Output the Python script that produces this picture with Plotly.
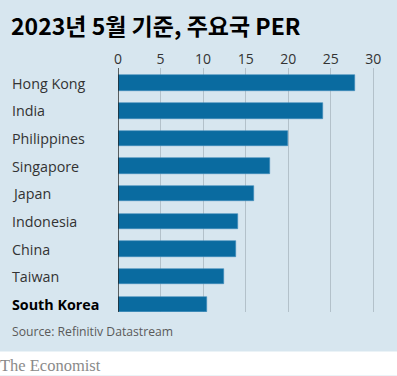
import plotly.graph_objects as go

countries = ["Hong Kong", "India", "Philippines", "Singapore", "Japan",
             "Indonesia", "China", "Taiwan", "South Korea"]
per = [27.9, 24.1, 20.0, 17.9, 16.0, 14.1, 13.9, 12.4, 10.5]
tick_vals = [0, 5, 10, 15, 20, 25, 30]

W, H = 397, 376
L, R, T, B = 118, 22, 67.5, 63.7
pw, ph = W - L - R, H - T - B

BG = "#d7e6ef"
BAR = "#0a6ba0"

ypos = list(range(len(countries)))

fig = go.Figure(go.Bar(
    x=per, y=ypos, orientation="h",
    marker=dict(color=BAR, line=dict(color="#3f8bbb", width=0.6)),
    width=0.56, hoverinfo="skip",
))

def px_x(px):
    return (px - L) / pw

def px_y(py):
    return 1 - (py - T) / ph

annotations = []
for i, c in enumerate(countries):
    bold = c == "South Korea"
    annotations.append(dict(
        x=px_x(10), xref="paper", y=i, yref="y",
        text=f"<b>{c}</b>" if bold else c,
        showarrow=False, xanchor="left", yanchor="middle",
        font=dict(family="Open Sans", size=14.3, color="#000000" if bold else "#333333"),
    ))

annotations.append(dict(
    x=px_x(9), xref="paper", y=px_y(5), yref="paper",
    text="<b>2023년 5월 기준, 주요국 PER</b>", showarrow=False,
    xanchor="left", yanchor="top",
    font=dict(family="Noto Sans CJK KR", size=23, color="#000000"),
))
annotations.append(dict(
    x=px_x(10), xref="paper", y=px_y(332), yref="paper",
    text="Source: Refinitiv Datastream", showarrow=False,
    xanchor="left", yanchor="middle",
    font=dict(family="Open Sans", size=12.2, color="#5a5a5a"),
))
annotations.append(dict(
    x=px_x(-2), xref="paper", y=px_y(366), yref="paper",
    text="The Economist", showarrow=False,
    xanchor="left", yanchor="middle",
    font=dict(family="Liberation Serif", size=16.5, color="#8a8a8a"),
))

shapes = [
    dict(type="rect", xref="paper", yref="paper",
         x0=px_x(0), x1=px_x(W), y0=px_y(352), y1=px_y(376),
         fillcolor="#ffffff", line=dict(width=0), layer="below"),
    dict(type="line", xref="x", yref="paper", x0=0, x1=0, y0=0, y1=1,
         line=dict(color="#222222", width=1.4), layer="above"),
]

fig.update_layout(
    width=W, height=H,
    margin=dict(l=L, r=R, t=T, b=B, pad=0),
    paper_bgcolor=BG, plot_bgcolor=BG,
    showlegend=False,
    bargap=0,
    xaxis=dict(
        side="top", range=[0, 30.2], tickvals=tick_vals,
        showgrid=True, gridcolor="#b3c1ca", gridwidth=1.2,
        zeroline=False, showline=False, ticks="",
        tickfont=dict(family="Open Sans", size=14, color="#333333"),
        fixedrange=True,
    ),
    yaxis=dict(
        range=[8.28, -0.55], showticklabels=False, showgrid=False,
        zeroline=False, showline=False, ticks="", fixedrange=True,
    ),
    annotations=annotations,
    shapes=shapes,
)

fig.write_html(
    "out.html",
    config={"displayModeBar": False},
    post_script="document.body.style.margin='0px';document.body.style.overflow='hidden';",
)
